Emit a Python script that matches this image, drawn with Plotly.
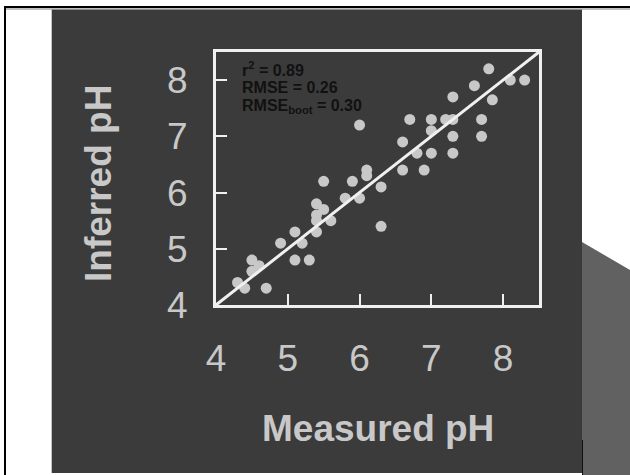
import plotly.graph_objects as go

# Data
measured_ph = [4.3, 4.4, 4.7, 4.5, 4.6, 4.5, 4.9, 5.1, 5.2, 5.1, 5.3, 5.4, 5.4, 5.5, 5.4, 5.4,
               5.6, 5.5, 5.8, 5.9, 6.0, 6.0, 6.1, 6.1, 6.3, 6.3, 6.6, 6.6, 6.7, 6.8, 6.9, 7.0,
               7.0, 7.0, 7.2, 7.3, 7.3, 7.3, 7.3, 7.6, 7.7, 7.7, 7.8, 7.85, 8.1, 8.3]
inferred_ph = [4.4, 4.3, 4.3, 4.8, 4.7, 4.6, 5.1, 5.3, 5.1, 4.8, 4.8, 5.8, 5.6, 5.7, 5.5, 5.3,
               5.5, 6.2, 5.9, 6.2, 5.9, 7.2, 6.4, 6.3, 6.1, 5.4, 6.9, 6.4, 7.3, 6.7, 6.4, 7.3,
               7.1, 6.7, 7.3, 7.3, 7.7, 7.0, 6.7, 7.9, 7.3, 7.0, 8.2, 7.65, 8.0, 8.0]
axis_range = [4, 8.5]
tick_vals = [4, 5, 6, 7, 8]
tick_labels = ["4", "5", "6", "7", "8"]
stats_lines = ["<b>r<sup>2</sup> = 0.89</b>", "<b>RMSE = 0.26</b>", "<b>RMSE<sub>boot</sub> = 0.30</b>"]
x_title = "Measured pH"
y_title = "Inferred pH"

W, H = 630, 475
ML, MR, MT, MB = 216, 91, 52, 170
PW, PH = W - ML - MR, H - MT - MB


def px(x):
    return (x - ML) / PW


def py(y):
    return (H - MB - y) / PH


DARK = "#3b3b3b"
LIGHT = "#c8c8c8"
LINE = "#f0f0f0"
FONT = "Liberation Sans, Arial, sans-serif"

fig = go.Figure()
fig.add_trace(go.Scatter(x=measured_ph, y=inferred_ph, mode="markers",
                         marker=dict(size=11, color=LIGHT, line=dict(width=0)),
                         showlegend=False, cliponaxis=False))
fig.add_trace(go.Scatter(x=axis_range, y=axis_range, mode="lines",
                         line=dict(color=LINE, width=3), showlegend=False))

shapes = [
    # dark slide background
    dict(type="rect", xref="paper", yref="paper", x0=px(51.7), x1=px(582), y0=py(473), y1=py(9.5),
         fillcolor=DARK, line=dict(width=0), layer="below"),
    # gray shadow on the right
    dict(type="path", xref="paper", yref="paper",
         path=f"M {px(582)} {py(242)} L {px(630)} {py(270)} L {px(630)} {py(475)} L {px(582)} {py(475)} Z",
         fillcolor="#616161", line=dict(width=0), layer="below"),
    # frame lines
    dict(type="line", xref="paper", yref="paper", x0=px(4), x1=px(630), y0=py(7), y1=py(7),
         line=dict(color="black", width=2)),
    dict(type="line", xref="paper", yref="paper", x0=px(4), x1=px(630), y0=py(9), y1=py(9),
         line=dict(color="#808080", width=1)),
    dict(type="line", xref="paper", yref="paper", x0=px(5), x1=px(5), y0=py(7), y1=py(475),
         line=dict(color="black", width=2)),
    dict(type="line", xref="paper", yref="paper", x0=px(582.5), x1=px(582.5), y0=py(440), y1=py(475),
         line=dict(color="#111111", width=1)),
]

annotations = [
    dict(text=f"<b>{x_title}</b>", xref="paper", yref="paper", x=px(378), y=py(428),
         xanchor="center", yanchor="middle", showarrow=False,
         font=dict(family=FONT, size=37, color=LIGHT)),
    dict(text=f"<b>{y_title}</b>", xref="paper", yref="paper", x=px(98), y=py(184),
         xanchor="center", yanchor="middle", showarrow=False, textangle=-90,
         font=dict(family=FONT, size=37, color=LIGHT)),
]
stat_y = [69, 87.5, 106]
for line_txt, yy in zip(stats_lines, stat_y):
    annotations.append(dict(text=line_txt, xref="paper", yref="paper", x=px(239.5), y=py(yy),
                            xanchor="left", yanchor="middle", showarrow=False,
                            font=dict(family=FONT, size=16, color="#111111")))

axis_common = dict(range=axis_range, tickvals=tick_vals, ticktext=tick_labels,
                   showgrid=False, zeroline=False, showline=True, mirror=True,
                   linecolor=LINE, linewidth=3, ticks="inside", ticklen=11, tickwidth=1.5,
                   tickcolor=LINE, tickfont=dict(family=FONT, size=37, color=LIGHT))

fig.update_layout(
    width=W, height=H, autosize=False,
    margin=dict(l=ML, r=MR, t=MT, b=MB, pad=0),
    paper_bgcolor="white", plot_bgcolor=DARK,
    xaxis=dict(**axis_common, ticklabelstandoff=19),
    yaxis=dict(**axis_common, ticklabelstandoff=18),
    shapes=shapes, annotations=annotations,
)

fig.write_html("out.html",
               config={"displayModeBar": False},
               post_script="document.body.style.margin='0';document.body.style.padding='0';")
